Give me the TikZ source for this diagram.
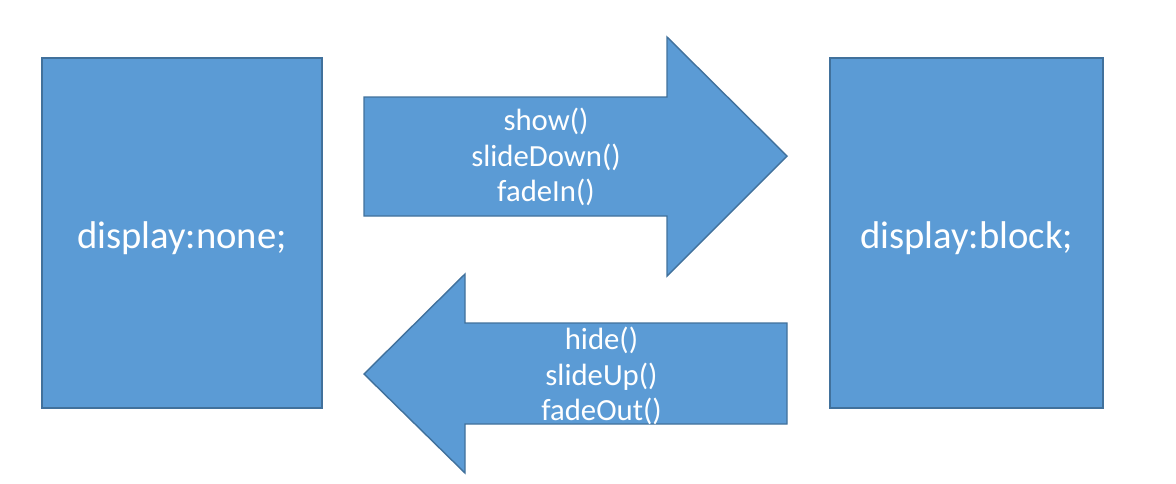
\documentclass[tikz,border=0pt]{standalone}
\usepackage{fontspec}
\setmainfont{Carlito}
\usetikzlibrary{positioning}
\definecolor{BoxBlue}{RGB}{91,155,213}
\definecolor{EdgeBlue}{RGB}{65,113,156}
\tikzset{
  statebox/.style={draw=EdgeBlue,fill=BoxBlue,line width=0.8pt,
    text=white,inner sep=0pt,text height=0.82cm,text depth=0.2cm,
    font=\fontsize{22}{26}\selectfont},
  blockarrow/.style={draw=EdgeBlue,fill=BoxBlue,line width=0.8pt},
  calls/.style={text=white,align=center,inner sep=0pt,
    font=\fontsize{17.5}{20.2}\selectfont}
}

\begin{document}
\begin{tikzpicture}

\useasboundingbox (0,0) rectangle (23.52,-9.66);

% the two states
\node[
  statebox,
  minimum width=5.6cm,
  minimum height=7cm
] (hidden) at (3.64,-4.66) {display:none;};

\node[
  statebox,
  minimum width=5.46cm,
  minimum height=7cm
] (shown) at (19.33,-4.66) {display:block;};

% arrow to the right
\filldraw[blockarrow]
(7.28,-1.94) -- (13.34,-1.94) -- (13.34,-0.74) -- (15.74,-3.12)
-- (13.34,-5.52) -- (13.34,-4.32) -- (7.28,-4.32) -- cycle;

\node[calls] (showcalls) at (10.92,-3.14)
  {show()\\slideDown()\\fadeIn()};

% arrow to the left
\filldraw[blockarrow]
(15.74,-6.46) -- (9.30,-6.46) -- (9.30,-5.48) -- (7.28,-7.48)
-- (9.30,-9.46) -- (9.30,-8.48) -- (15.74,-8.48) -- cycle;

\node[calls] (hidecalls) at (12.03,-7.52)
  {hide()\\slideUp()\\fadeOut()};

\end{tikzpicture}
\end{document}
